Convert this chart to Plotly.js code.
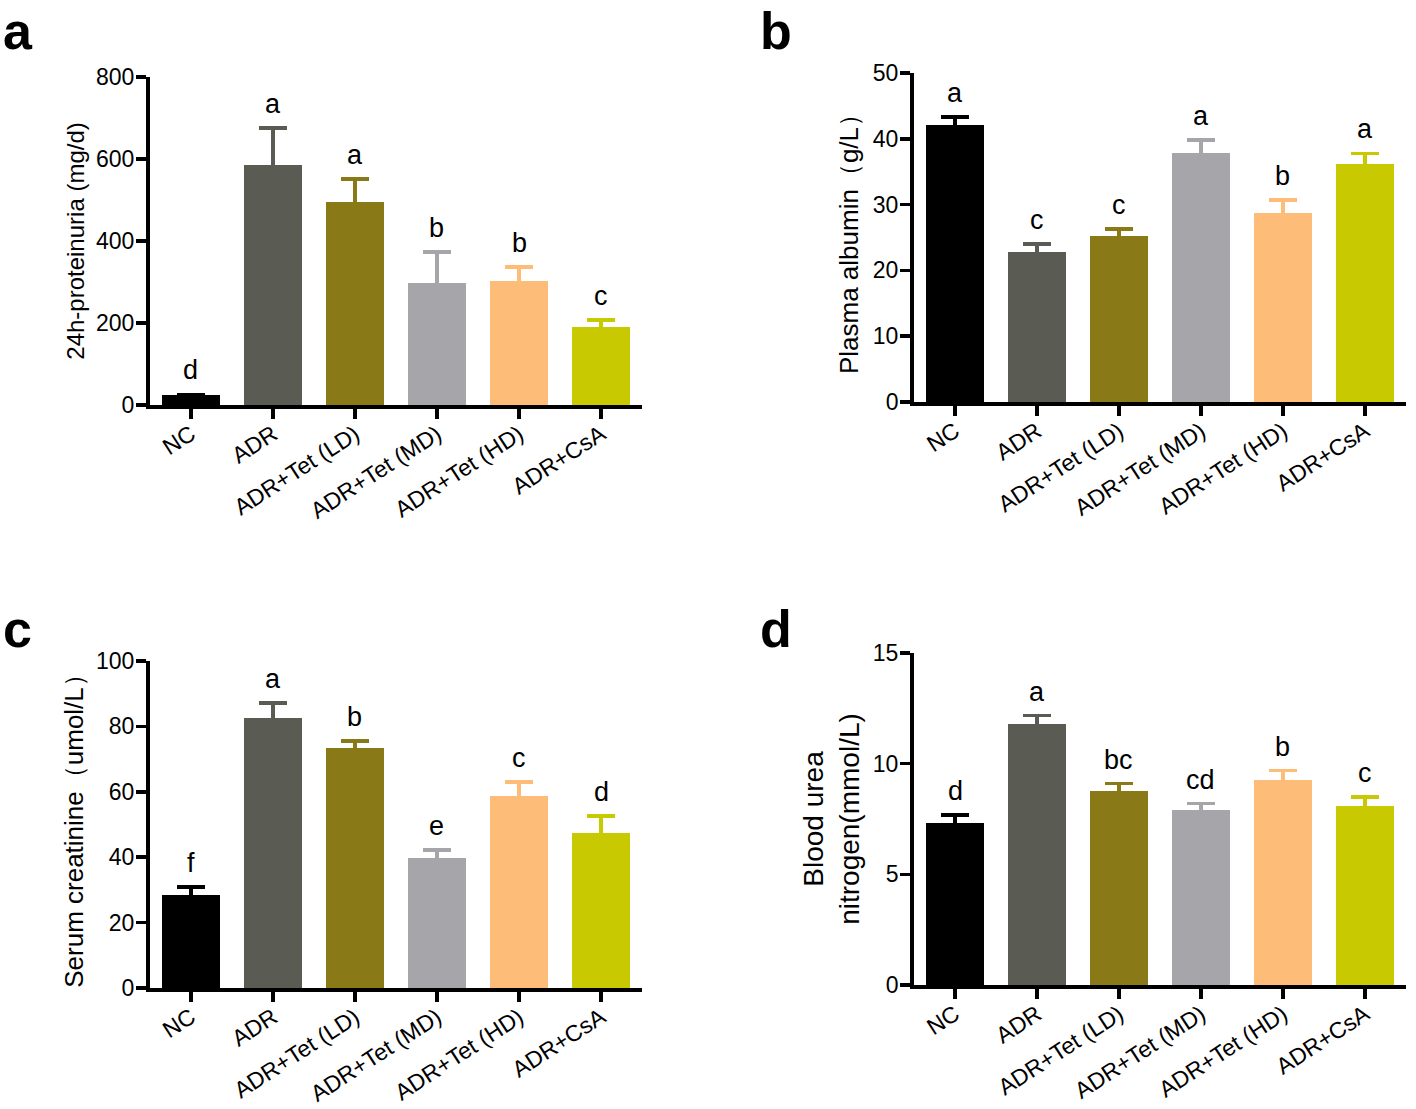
<!DOCTYPE html>
<html>
<head>
<meta charset="utf-8">
<script src="https://cdn.plot.ly/plotly-3.0.1.min.js"></script>
<style>
  body { margin: 0; background: #fff; }
  #fig { width: 1416px; height: 1109px; }
</style>
</head>
<body>
<div id="fig"></div>
<script>
var groups = ['NC', 'ADR', 'ADR+Tet (LD)', 'ADR+Tet (MD)', 'ADR+Tet (HD)', 'ADR+CsA'];
var barColors = ['#000000', '#5a5b53', '#8a7a17', '#a6a5aa', '#fdbd78', '#c9c902'];

// a: 24h proteinuria
var protMean = [24, 585, 495, 297, 302, 190];
var protErr = [2, 90, 56, 76, 35, 17];
var protLetters = ['d', 'a', 'a', 'b', 'b', 'c'];

// b: plasma albumin
var albMean = [42.1, 22.8, 25.2, 37.8, 28.7, 36.2];
var albErr = [1.2, 1.2, 1.1, 2.0, 2.0, 1.6];
var albLetters = ['a', 'c', 'c', 'a', 'b', 'a'];

// c: serum creatinine
var creMean = [28.4, 82.6, 73.4, 39.8, 58.7, 47.4];
var creErr = [2.5, 4.6, 2.1, 2.4, 4.3, 5.2];
var creLetters = ['f', 'a', 'b', 'e', 'c', 'd'];

// d: blood urea nitrogen
var bunMean = [7.33, 11.8, 8.78, 7.92, 9.28, 8.1];
var bunErr = [0.36, 0.37, 0.32, 0.27, 0.4, 0.4];
var bunLetters = ['d', 'a', 'bc', 'cd', 'b', 'c'];

var font = 'Liberation Sans, Arial, sans-serif';

var panels = [
  {mean: protMean, err: protErr, letters: protLetters, xa: 'x', ya: 'y'},
  {mean: albMean, err: albErr, letters: albLetters, xa: 'x2', ya: 'y2'},
  {mean: creMean, err: creErr, letters: creLetters, xa: 'x3', ya: 'y3'},
  {mean: bunMean, err: bunErr, letters: bunLetters, xa: 'x4', ya: 'y4'}
];

var data = [];
var annotations = [];

panels.forEach(function(p) {
  for (var i = 0; i < groups.length; i++) {
    data.push({
      type: 'bar',
      x: [i],
      y: [p.mean[i]],
      xaxis: p.xa,
      yaxis: p.ya,
      width: 0.7,
      marker: {color: barColors[i], line: {width: 0}},
      // lower half runs down inside the bar (same colour), so only the upper whisker shows
      error_y: {
        type: 'data',
        symmetric: false,
        array: [p.err[i]],
        arrayminus: [p.mean[i]],
        color: barColors[i],
        thickness: 3.5,
        width: 14
      },
      showlegend: false,
      hoverinfo: 'skip'
    });
    annotations.push({
      x: i,
      y: p.mean[i] + p.err[i],
      xref: p.xa,
      yref: p.ya,
      text: p.letters[i],
      showarrow: false,
      yanchor: 'bottom',
      yshift: 7,
      font: {family: font, size: 27, color: '#000'}
    });
  }
});

var panelLabels = [['a', 0.001, 1.0], ['b', 0.535, 1.0], ['c', 0.001, 0.461], ['d', 0.535, 0.461]];
panelLabels.forEach(function(l) {
  annotations.push({
    x: l[1], y: l[2], xref: 'paper', yref: 'paper',
    xanchor: 'left', yanchor: 'top',
    text: '<b>' + l[0] + '</b>',
    showarrow: false,
    font: {family: font, size: 52, color: '#000'}
  });
});

function xAxis(domain, anchor) {
  return {
    domain: domain,
    anchor: anchor,
    range: [-0.5, 5.5],
    tickvals: [0, 1, 2, 3, 4, 5],
    ticktext: groups,
    tickangle: -33,
    tickfont: {family: font, size: 23, color: '#000'},
    ticklabelstandoff: -7,
    showline: true,
    linewidth: 4,
    linecolor: '#000',
    ticks: 'outside',
    ticklen: 10,
    tickwidth: 3.5,
    tickcolor: '#000',
    showgrid: false,
    zeroline: false,
    fixedrange: true
  };
}

function yAxis(domain, anchor, range, dtick, title, titleSize, standoff) {
  return {
    domain: domain,
    anchor: anchor,
    range: range,
    dtick: dtick,
    tick0: 0,
    tickfont: {family: font, size: 23, color: '#000'},
    title: {text: title, font: {family: font, size: titleSize, color: '#000'}, standoff: standoff},
    showline: true,
    linewidth: 4,
    linecolor: '#000',
    ticks: 'outside',
    ticklen: 10,
    tickwidth: 3.5,
    tickcolor: '#000',
    ticklabelstandoff: -3,
    showgrid: false,
    zeroline: false,
    fixedrange: true
  };
}

var layout = {
  width: 1416,
  height: 1109,
  margin: {l: 0, r: 0, t: 0, b: 0},
  paper_bgcolor: '#fff',
  plot_bgcolor: '#fff',
  barmode: 'overlay',
  bargap: 0,
  showlegend: false,
  xaxis: xAxis([0.1059, 0.4534], 'y'),
  yaxis: yAxis([0.6348, 0.9306], 'x', [0, 800], 200, '24h-proteinuria (mg/d)', 24, 6),
  xaxis2: xAxis([0.6455, 0.9929], 'y2'),
  yaxis2: yAxis([0.6375, 0.9342], 'x2', [0, 50], 10, 'Plasma albumin（g/L）', 26, 8),
  xaxis3: xAxis([0.1059, 0.4534], 'y3'),
  yaxis3: yAxis([0.1091, 0.4040], 'x3', [0, 100], 20, 'Serum creatinine（umol/L）', 26, 6),
  xaxis4: xAxis([0.6455, 0.9929], 'y4'),
  yaxis4: yAxis([0.1118, 0.4112], 'x4', [0, 15], 5, 'Blood urea<br>nitrogen(mmol/L)', 28, 6),
  annotations: annotations
};

Plotly.newPlot('fig', data, layout, {staticPlot: true});
</script>
</body>
</html>
